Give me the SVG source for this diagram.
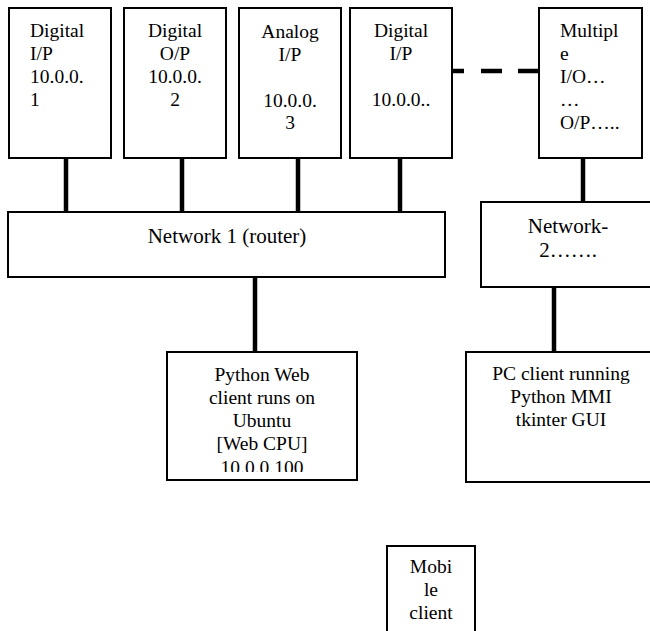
<svg xmlns="http://www.w3.org/2000/svg" width="650" height="631" viewBox="0 0 650 631">
<style>
.box{fill:#fff;stroke:#000;stroke-width:2}
.t{font-family:"Liberation Serif","Times New Roman",serif;font-size:19.5px;fill:#000}
.c{text-anchor:middle}
.big{font-size:21px}
.conn{stroke:#000;stroke-width:4.5;fill:none}
</style>
<defs>
<clipPath id="clipPy"><rect x="160" y="350" width="210" height="122"/></clipPath>
</defs>
<rect width="650" height="631" fill="#fff"/>
<g id="connectors">
<path class="conn" d="M66 158V223M182 158V223M298 158V223M400 158V223M255 272V355M583 158V202M554 287V352"/>
<path class="conn" d="M423 71H427M444 71H464M481 71H502M518 71H539"/>
</g>
<g id="dig-ip-1">
<rect class="box" x="9" y="8" width="102" height="150"/>
<text class="t" x="30" y="37">Digital</text>
<text class="t" x="30" y="60">I/P</text>
<text class="t" x="30" y="83">10.0.0.</text>
<text class="t" x="30" y="106">1</text>
</g>
<g id="dig-op-2">
<rect class="box" x="124" y="8" width="102" height="150"/>
<text class="t c" x="175" y="37">Digital</text>
<text class="t c" x="175" y="60">O/P</text>
<text class="t c" x="175" y="83">10.0.0.</text>
<text class="t c" x="175" y="106">2</text>
</g>
<g id="analog-ip-3">
<rect class="box" x="239" y="8" width="102" height="150"/>
<text class="t c" x="290" y="37.5">Analog</text>
<text class="t c" x="290" y="60.5">I/P</text>
<text class="t c" x="290" y="106.5">10.0.0.</text>
<text class="t c" x="290" y="128.5">3</text>
</g>
<g id="dig-ip-n">
<rect class="box" x="350" y="8" width="102" height="150"/>
<text class="t c" x="401" y="37">Digital</text>
<text class="t c" x="401" y="60">I/P</text>
<text class="t c" x="401" y="106">10.0.0..</text>
</g>
<g id="multiple-io">
<rect class="box" x="539" y="8" width="103" height="150"/>
<text class="t" x="560" y="37">Multipl</text>
<text class="t" x="560" y="60">e</text>
<text class="t" x="560" y="83">I/O…</text>
<text class="t" x="560" y="106">…</text>
<text class="t" x="560" y="129">O/P…..</text>
</g>
<g id="network1">
<rect class="box" x="8" y="212" width="437" height="65"/>
<text class="t c big" x="227" y="243">Network 1 (router)</text>
</g>
<g id="network2">
<rect class="box" x="481" y="202" width="180" height="85"/>
<text class="t c big" x="568" y="233">Network-</text>
<text class="t c big" x="568" y="257">2…….</text>
</g>
<g id="python-web">
<rect class="box" x="167" y="352" width="190" height="128"/>
<text class="t c" x="262" y="381">Python Web</text>
<text class="t c" x="262" y="404">client runs on</text>
<text class="t c" x="262" y="427">Ubuntu</text>
<text class="t c" x="262" y="450">[Web CPU]</text>
<text class="t c" x="262" y="474" clip-path="url(#clipPy)">10.0.0.100</text>
</g>
<g id="pc-client">
<rect class="box" x="466" y="352" width="200" height="130"/>
<text class="t c" x="561" y="380">PC client running</text>
<text class="t c" x="561" y="403">Python MMI</text>
<text class="t c" x="561" y="426">tkinter GUI</text>
</g>
<g id="mobile-client">
<rect class="box" x="387" y="546" width="88" height="100"/>
<text class="t c" x="431" y="573">Mobi</text>
<text class="t c" x="431" y="596">le</text>
<text class="t c" x="431" y="619">client</text>
</g>
</svg>
